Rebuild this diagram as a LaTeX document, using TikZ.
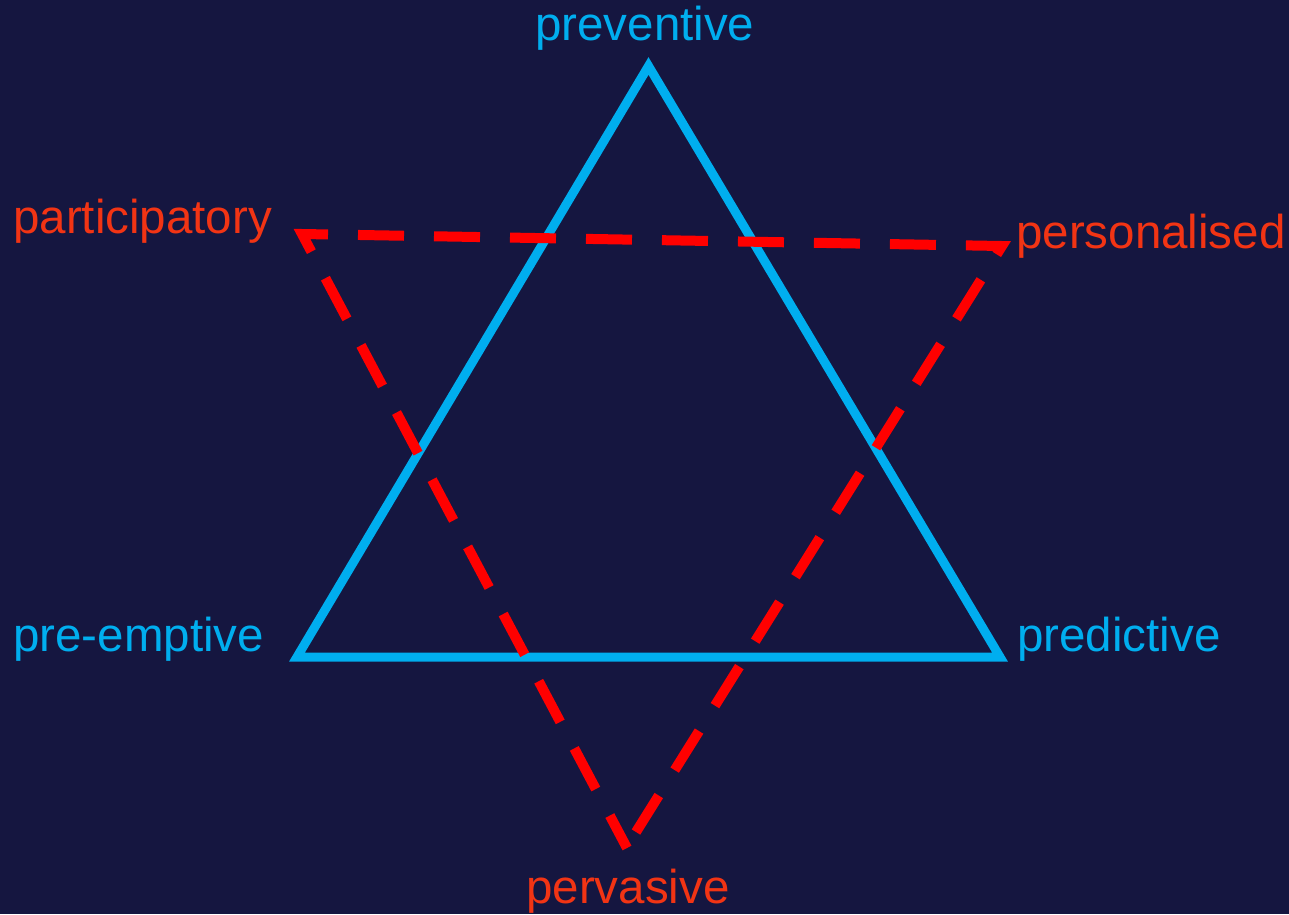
\documentclass[tikz,border=0pt]{standalone}
\usepackage{fontspec}
\setmainfont{Liberation Sans}
\definecolor{bg}{RGB}{21,22,64}
\definecolor{tblue}{RGB}{0,174,239}
\definecolor{tred}{RGB}{255,0,0}
\definecolor{lred}{RGB}{242,52,20}
\begin{document}
\begin{tikzpicture}[x=1pt,y=-1pt,
  lbl/.style={inner sep=0pt,anchor=base west,font=\fontsize{47.5}{57}\selectfont},
  bluelbl/.style={lbl,text=tblue},
  redlbl/.style={lbl,text=lred},
  blueedge/.style={draw=tblue,line width=9pt,line join=miter,miter limit=10},
  rededge/.style={draw=tred,line width=10pt,line join=miter,miter limit=10,
    dash pattern=on 46pt off 30pt,dash phase=3pt}]
\fill[bg] (0,0) rectangle (1289,914);
\useasboundingbox (0,0) rectangle (1289,914);
% blue triangle
\coordinate (top) at (648.5,66);
\coordinate (bl) at (297,657);
\coordinate (br) at (1000,657);
\draw[blueedge] (top) -- (br) -- (bl) -- cycle;
% red dashed triangle
\coordinate (rs) at (636,832);
\coordinate (rp) at (1002,246);
\coordinate (rq) at (302,234);
\coordinate (re) at (627,848);
\draw[rededge] (rs) -- (rp) -- (rq) -- (re);
% labels
\node[bluelbl] (preventive) at (535,40) {preventive};
\node[bluelbl] (preemptive) at (13,651) {pre-emptive};
\node[bluelbl] (predictive) at (1017,651) {predictive};
\node[redlbl] (participatory) at (13,233) {participatory};
\node[redlbl] (personalised) at (1016,248) {personalised};
\node[redlbl] (pervasive) at (526,903) {pervasive};
\end{tikzpicture}
\end{document}
